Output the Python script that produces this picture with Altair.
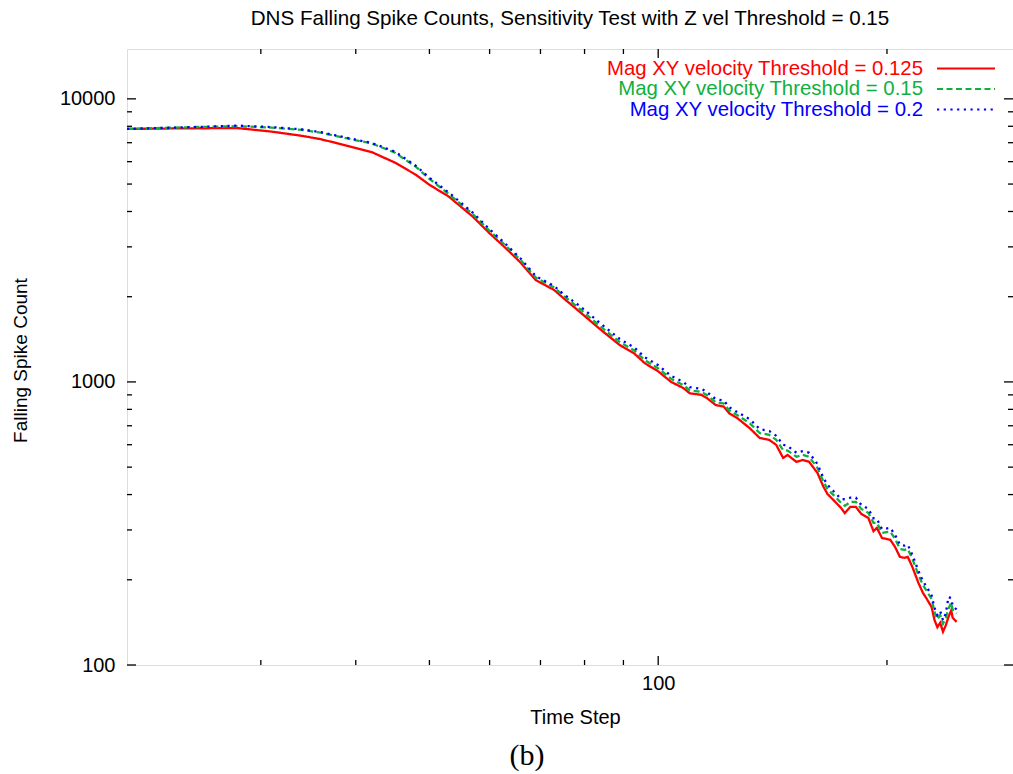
import altair as alt
import pandas as pd

# ---------------- data ----------------
time_steps = [20, 24, 28, 31, 34, 36, 39, 42, 45, 48, 50, 53, 57, 60, 63, 66, 69, 73, 75, 79,
              84, 89, 93, 96, 100, 104, 108, 110, 114, 116, 119, 122, 124, 127, 132, 136, 140, 143, 146, 148,
              152, 155, 158, 162, 165, 167, 170, 174, 176, 179, 182, 185, 189, 192, 194, 197, 202, 205, 208, 211,
              213, 216, 220, 223, 226, 229, 231, 233, 235, 237, 239, 241, 243, 244, 247]

red_counts = [7830, 7870, 7880, 7660, 7400, 7200, 6820, 6480, 5960, 5390, 4970, 4520, 3840, 3350, 2970, 2630, 2290, 2110, 1980, 1760,
              1530, 1350, 1260, 1165, 1090, 1000, 950, 912, 900, 876, 829, 818, 775, 746, 686, 634, 624, 599, 539, 552,
              522, 530, 522, 477, 426, 402, 383, 359, 344, 362, 362, 342, 331, 297, 305, 281, 277, 261, 241, 239,
              241, 222, 195, 180, 170, 160, 144, 136, 141, 131, 138, 148, 156, 147, 142]

green_counts = [7830, 7935, 8009, 7914, 7770, 7591, 7249, 6950, 6465, 5752, 5219, 4613, 3919, 3419, 3031, 2684, 2337, 2153, 2021, 1803,
                1568, 1383, 1291, 1194, 1117, 1025, 973, 935, 922, 898, 849, 838, 794, 764, 714, 660, 650, 624, 575, 572,
                544, 552, 544, 497, 444, 419, 399, 374, 365, 377, 377, 356, 345, 318, 318, 293, 296, 279, 257, 255,
                257, 237, 208, 192, 181, 171, 154, 145, 150, 140, 147, 158, 166, 157, 152]

blue_counts = [7830, 7935, 8042, 7946, 7802, 7622, 7278, 6980, 6518, 5800, 5261, 4670, 3967, 3461, 3068, 2717, 2366, 2180, 2046, 1848,
               1607, 1418, 1323, 1223, 1145, 1050, 998, 958, 945, 920, 870, 859, 814, 783, 738, 682, 671, 645, 600, 594,
               562, 570, 562, 513, 458, 433, 412, 386, 385, 390, 390, 368, 356, 330, 328, 302, 305, 288, 266, 264,
               266, 245, 215, 198, 187, 176, 159, 150, 155, 144, 152, 174, 172, 162, 157]

series_names = ["Mag XY velocity Threshold = 0.125",
                "Mag XY velocity Threshold = 0.15",
                "Mag XY velocity Threshold = 0.2"]
series_values = [red_counts, green_counts, blue_counts]
series_colors = ["#ff0000", "#10b040", "#0000ff"]
series_dashes = [[1, 0], [6, 3.5], [2.2, 4.5]]

x_domain = [20, 293]
y_domain = [100, 15000]
y_major = [100, 1000, 10000]
y_minor = [200, 300, 400, 500, 600, 700, 800, 900, 2000, 3000, 4000, 5000, 6000, 7000, 8000, 9000]
x_major = [100]
x_minor = [30, 40, 50, 60, 70, 80, 90, 200]

title_text = "DNS Falling Spike Counts, Sensitivity Test with Z vel Threshold = 0.15"
x_title = "Time Step"
y_title = "Falling Spike Count"
caption = "(b)"

# ---------------- layout ----------------
W, H = 886, 616
FONT = "Liberation Sans"

xscale = alt.Scale(type="log", domain=x_domain, nice=False)
yscale = alt.Scale(type="log", domain=y_domain, nice=False)

layers = []

# data lines
for i, (name, vals) in enumerate(zip(series_names, series_values)):
    df = pd.DataFrame({"t": time_steps, "count": vals, "series": name})
    if i == 0:
        xenc = alt.X("t:Q", scale=xscale,
                     axis=alt.Axis(values=x_major, format="d", tickSize=0, domain=False, grid=False,
                                   labelFontSize=20, labelFont=FONT, labelPadding=8, labelColor="black",
                                   title=x_title, titleFont=FONT, titleFontSize=20, titleFontWeight="normal",
                                   titleColor="black", titleX=448, titleY=52, titleBaseline="middle",
                                   titleAlign="center"))
        yenc = alt.Y("count:Q", scale=yscale,
                     axis=alt.Axis(values=y_major, format="d", tickSize=0, domain=False, grid=False,
                                   labelFontSize=20, labelFont=FONT, labelPadding=12, labelColor="black",
                                   title=y_title, titleFont=FONT, titleFontSize=19, titleFontWeight="normal",
                                   titleColor="black", titleX=-107, titleY=311, titleAngle=270,
                                   titleAlign="center", titleBaseline="middle"))
    else:
        xenc = alt.X("t:Q", scale=xscale)
        yenc = alt.Y("count:Q", scale=yscale)
    layers.append(
        alt.Chart(df).mark_line(color=series_colors[i], strokeWidth=2.3, strokeDash=series_dashes[i],
                                strokeCap="butt", clip=True)
        .encode(x=xenc, y=yenc)
    )

# inward ticks (gnuplot style, mirrored on all sides)
def yticks(vals, length):
    d = pd.DataFrame({"v": vals})
    left = alt.Chart(d).mark_rule(color="black", strokeWidth=1.3).encode(
        y=alt.Y("v:Q", scale=yscale), x=alt.value(0), x2=alt.value(length))
    right = alt.Chart(d).mark_rule(color="black", strokeWidth=1.3).encode(
        y=alt.Y("v:Q", scale=yscale), x=alt.value(W - length), x2=alt.value(W))
    return [left, right]

def xticks(vals, length):
    d = pd.DataFrame({"v": vals})
    bottom = alt.Chart(d).mark_rule(color="black", strokeWidth=1.3).encode(
        x=alt.X("v:Q", scale=xscale), y=alt.value(H), y2=alt.value(H - length))
    top = alt.Chart(d).mark_rule(color="black", strokeWidth=1.3).encode(
        x=alt.X("v:Q", scale=xscale), y=alt.value(0), y2=alt.value(length))
    return [bottom, top]

layers += yticks(y_major, 9) + yticks(y_minor, 5) + xticks(x_major, 9) + xticks(x_minor, 5)

# legend (text on the left, sample line on the right, as in gnuplot)
legend_rows_y = [19.5, 40, 60.5]
for i, name in enumerate(series_names):
    one = pd.DataFrame({"label": [name]})
    layers.append(
        alt.Chart(one).mark_text(align="right", baseline="middle", font=FONT, fontSize=20.4,
                                 color=series_colors[i])
        .encode(text="label:N", x=alt.value(796), y=alt.value(legend_rows_y[i]))
    )
    layers.append(
        alt.Chart(one).mark_rule(color=series_colors[i], strokeWidth=2.2, strokeDash=series_dashes[i],
                                 strokeCap="butt")
        .encode(x=alt.value(810), x2=alt.value(868), y=alt.value(legend_rows_y[i]))
    )

# caption "(b)" below the chart
cap = pd.DataFrame({"c": [caption]})
layers.append(
    alt.Chart(cap).mark_text(align="center", baseline="middle", font="Liberation Serif", fontSize=30,
                             color="black")
    .encode(text="c:N", x=alt.value(400), y=alt.value(707))
)

chart = (
    alt.layer(*layers)
    .properties(
        width=W, height=H,
        title=alt.TitleParams(title_text, font=FONT, fontSize=20.6, fontWeight="normal", color="black",
                              anchor="middle", offset=19),
        autosize=alt.AutoSizeParams(type="none"),
        padding={"left": 127, "top": 49, "right": 0, "bottom": 109},
    )
    .configure_view(stroke="black", strokeWidth=1.6)
    .configure(background="white")
)

chart.save("out.html", embed_options={"renderer": "svg", "actions": False})
